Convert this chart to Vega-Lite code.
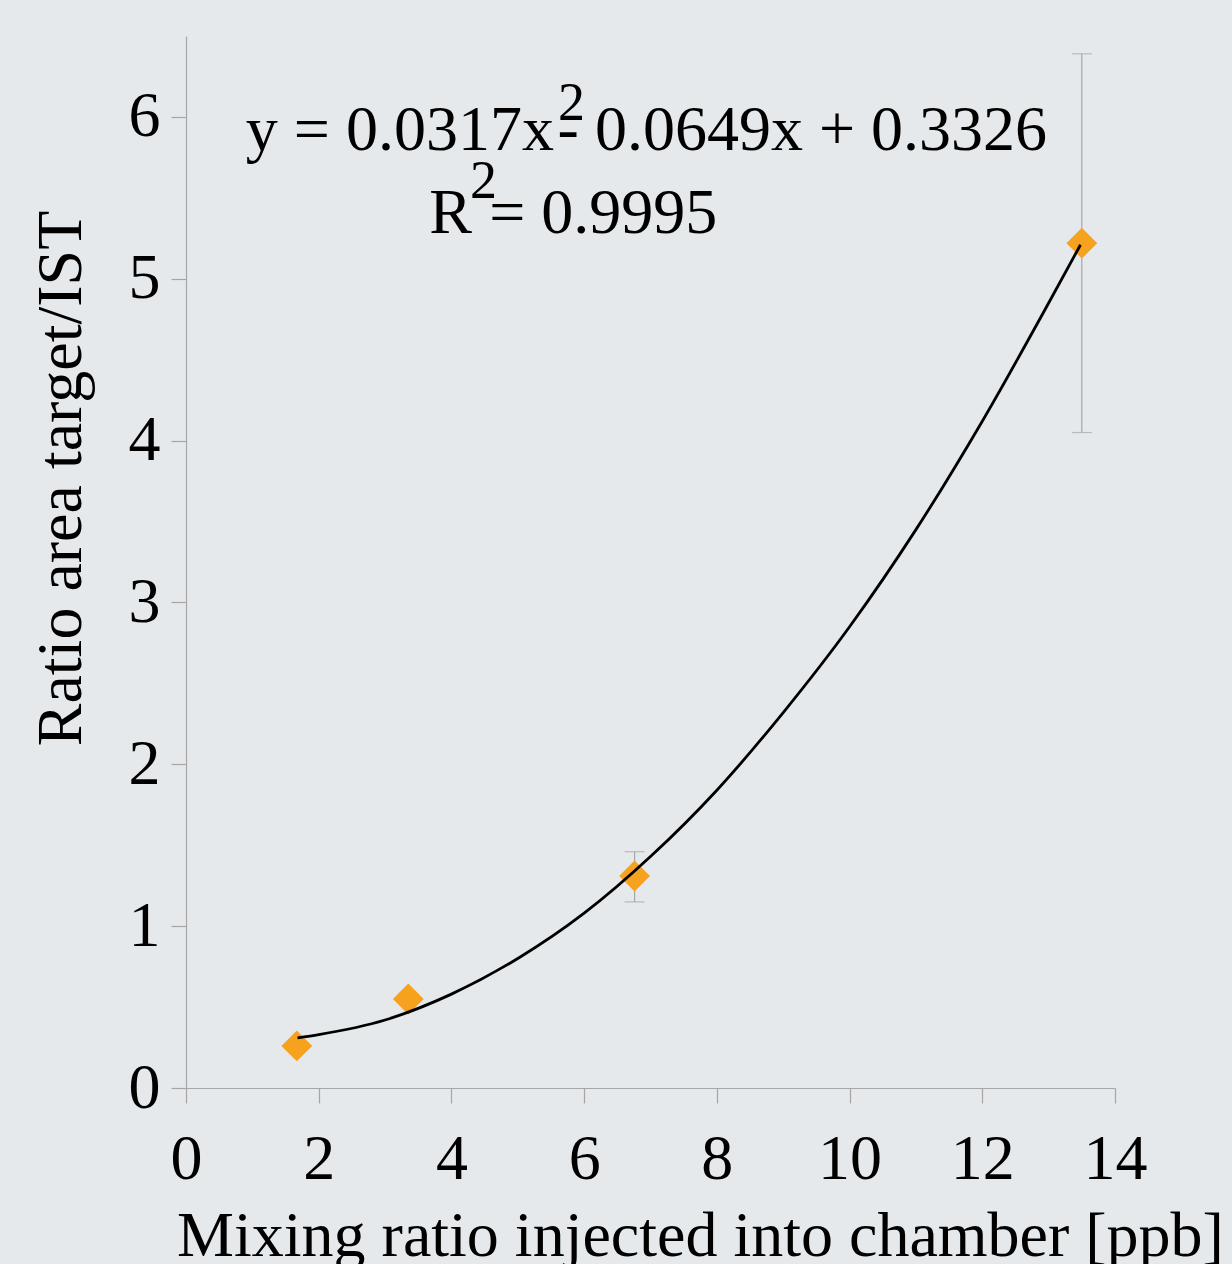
{
  "$schema": "https://vega.github.io/schema/vega-lite/v6.json",
  "width": 929,
  "height": 1052,
  "autosize": {"type": "none"},
  "padding": {"left": 186, "top": 36, "right": 117, "bottom": 176},
  "background": "#e5e9eb",
  "config": {
    "view": {"stroke": null},
    "font": "Liberation Serif",
    "axis": {
      "grid": false,
      "labelFont": "Liberation Serif",
      "titleFont": "Liberation Serif",
      "labelFontSize": 64,
      "titleFontSize": 64,
      "titleFontWeight": "normal",
      "labelColor": "#000000",
      "titleColor": "#000000",
      "domainColor": "#a6a6a6",
      "tickColor": "#a6a6a6",
      "tickSize": 15,
      "domainWidth": 1.2,
      "tickWidth": 1.2,
      "labelOverlap": false,
      "labelFlush": false,
      "format": "d"
    }
  },
  "datasets": {
    "points": [
      {"x": 1.67, "y": 0.26},
      {"x": 3.35, "y": 0.55},
      {"x": 6.76, "y": 1.31},
      {"x": 13.5, "y": 5.22}
    ],
    "errors": [
      {"x": 6.76, "lo": 1.15, "hi": 1.46},
      {"x": 13.5, "lo": 4.05, "hi": 6.39}
    ],
    "trend": [
      {"x": 1.68, "y": 0.31},
      {"x": 2, "y": 0.33},
      {"x": 3, "y": 0.42},
      {"x": 4, "y": 0.58},
      {"x": 5, "y": 0.80},
      {"x": 6, "y": 1.08},
      {"x": 7, "y": 1.43},
      {"x": 8, "y": 1.84},
      {"x": 9, "y": 2.32},
      {"x": 10, "y": 2.85},
      {"x": 11, "y": 3.45},
      {"x": 12, "y": 4.12},
      {"x": 13, "y": 4.85},
      {"x": 13.48, "y": 5.21}
    ],
    "eqRight": [
      {"x": 5.545, "y": 5.797, "t": "y = 0.0317x"},
      {"x": 4.31, "y": 5.284, "t": "R"}
    ],
    "eqLeft": [
      {"x": 5.6, "y": 5.797, "t": "- 0.0649x + 0.3326"},
      {"x": 4.57, "y": 5.284, "t": "= 0.9995"}
    ],
    "eqSup": [
      {"x": 5.606, "y": 5.983, "t": "2"},
      {"x": 4.28, "y": 5.5, "t": "2"}
    ]
  },
  "layer": [
    {
      "data": {"name": "errors"},
      "mark": {"type": "rule", "color": "#a6a6a6", "strokeWidth": 1.2},
      "encoding": {
        "x": {
          "field": "x", "type": "quantitative",
          "scale": {"domain": [0, 14], "nice": false},
          "axis": {
            "values": [0, 2, 4, 6, 8, 10, 12, 14],
            "labelPadding": 24,
            "labelDx": 6,
            "title": "Mixing ratio injected into chamber [ppb]",
            "titleX": 514,
            "titleY": 167,
            "titleBaseline": "alphabetic",
            "titleAlign": "center",
            "titleAnchor": "start"
          }
        },
        "y": {
          "field": "lo", "type": "quantitative",
          "scale": {"domain": [0, 6.5], "nice": false},
          "axis": {
            "values": [0, 1, 2, 3, 4, 5, 6],
            "labelPadding": 11,
            "title": "Ratio area target/IST",
            "titleX": -106,
            "titleY": 442,
            "titleAngle": -90,
            "titleBaseline": "alphabetic",
            "titleAlign": "center",
            "titleAnchor": "start"
          }
        },
        "y2": {"field": "hi"}
      }
    },
    {
      "data": {"name": "errors"},
      "mark": {"type": "tick", "orient": "horizontal", "color": "#a6a6a6", "size": 20, "thickness": 1.2},
      "encoding": {
        "x": {"field": "x", "type": "quantitative"},
        "y": {"field": "lo", "type": "quantitative"}
      }
    },
    {
      "data": {"name": "errors"},
      "mark": {"type": "tick", "orient": "horizontal", "color": "#a6a6a6", "size": 20, "thickness": 1.2},
      "encoding": {
        "x": {"field": "x", "type": "quantitative"},
        "y": {"field": "hi", "type": "quantitative"}
      }
    },
    {
      "data": {"name": "points"},
      "mark": {"type": "point", "shape": "diamond", "filled": true, "color": "#f7a21e", "opacity": 1, "size": 950},
      "encoding": {
        "x": {"field": "x", "type": "quantitative"},
        "y": {"field": "y", "type": "quantitative"}
      }
    },
    {
      "data": {"name": "trend"},
      "mark": {"type": "line", "color": "#000000", "strokeWidth": 2.8, "interpolate": "monotone"},
      "encoding": {
        "x": {"field": "x", "type": "quantitative"},
        "y": {"field": "y", "type": "quantitative"}
      }
    },
    {
      "data": {"name": "eqRight"},
      "mark": {"type": "text", "align": "right", "baseline": "alphabetic", "fontSize": 64, "font": "Liberation Serif", "color": "#000000"},
      "encoding": {
        "x": {"field": "x", "type": "quantitative"},
        "y": {"field": "y", "type": "quantitative"},
        "text": {"field": "t"}
      }
    },
    {
      "data": {"name": "eqLeft"},
      "mark": {"type": "text", "align": "left", "baseline": "alphabetic", "fontSize": 64, "font": "Liberation Serif", "color": "#000000"},
      "encoding": {
        "x": {"field": "x", "type": "quantitative"},
        "y": {"field": "y", "type": "quantitative"},
        "text": {"field": "t"}
      }
    },
    {
      "data": {"name": "eqSup"},
      "mark": {"type": "text", "align": "left", "baseline": "alphabetic", "fontSize": 54, "font": "Liberation Serif", "color": "#000000"},
      "encoding": {
        "x": {"field": "x", "type": "quantitative"},
        "y": {"field": "y", "type": "quantitative"},
        "text": {"field": "t"}
      }
    }
  ]
}
